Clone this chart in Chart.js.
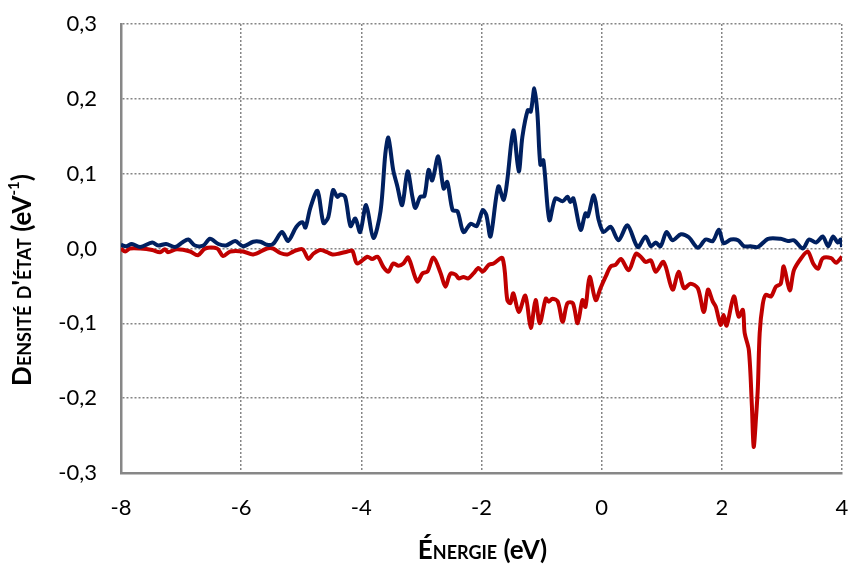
<!DOCTYPE html>
<html>
<head>
<meta charset="utf-8">
<script src="https://cdn.jsdelivr.net/npm/chart.js@4"></script>
<style>
  body { margin: 0; background: #fff; }
  #wrap { width: 849px; height: 566px; }
</style>
</head>
<body>
<div id="wrap"><canvas id="myCanvas" width="849" height="566"></canvas></div>
<script>
// Energy (eV) and density of states
var upEnergy = [-8.00, -7.92, -7.82, -7.68, -7.48, -7.38, -7.25, -7.10, -6.98, -6.88, -6.77, -6.63, -6.52, -6.38, -6.25, -6.10,
	-5.97, -5.80, -5.68, -5.57, -5.47, -5.32, -5.22, -5.08, -4.98, -4.93, -4.85, -4.73, -4.63, -4.55, -4.47, -4.40, -4.35, -4.27,
	-4.18, -4.10, -4.02, -3.92, -3.80, -3.68, -3.60, -3.55, -3.47, -3.40, -3.32, -3.23, -3.15, -3.10, -3.02, -2.95, -2.88, -2.82,
	-2.72, -2.63, -2.57, -2.48, -2.40, -2.30, -2.18, -2.08, -1.98, -1.92, -1.85, -1.72, -1.63, -1.57, -1.47, -1.38, -1.32, -1.23,
	-1.18, -1.12, -1.07, -1.02, -0.97, -0.87, -0.77, -0.65, -0.57, -0.52, -0.47, -0.35, -0.27, -0.23, -0.13, -0.05, 0.03, 0.15,
	0.28, 0.43, 0.60, 0.73, 0.82, 0.90, 0.98, 1.08, 1.18, 1.32, 1.45, 1.60, 1.73, 1.85, 1.95, 2.03, 2.15, 2.27, 2.37, 2.48, 2.60,
	2.77, 2.98, 3.10, 3.20, 3.35, 3.45, 3.57, 3.68, 3.77, 3.85, 3.93, 3.98, 4.00];
var upDOS = [0.005, 0.003, 0.006, 0.002, 0.008, 0.004, 0.006, 0.002, 0.008, 0.012, 0.004, 0.004, 0.013, 0.006, 0.004, 0.010,
	0.003, 0.009, 0.009, 0.005, 0.006, 0.022, 0.010, 0.029, 0.035, 0.028, 0.054, 0.077, 0.034, 0.042, 0.078, 0.069, 0.072, 0.069,
	0.030, 0.040, 0.022, 0.058, 0.014, 0.050, 0.127, 0.148, 0.105, 0.083, 0.058, 0.103, 0.069, 0.054, 0.069, 0.070, 0.105, 0.091,
	0.123, 0.080, 0.089, 0.051, 0.050, 0.022, 0.033, 0.030, 0.051, 0.045, 0.016, 0.083, 0.065, 0.092, 0.158, 0.103, 0.149, 0.185,
	0.183, 0.214, 0.181, 0.112, 0.118, 0.038, 0.067, 0.063, 0.069, 0.062, 0.067, 0.025, 0.047, 0.043, 0.071, 0.038, 0.022, 0.029,
	0.011, 0.031, 0.002, 0.016, 0.003, 0.008, 0.003, 0.022, 0.011, 0.019, 0.015, 0.001, 0.012, 0.010, 0.025, 0.007, 0.012, 0.011,
	0.003, 0.003, 0.002, 0.013, 0.013, 0.010, 0.011, 0.000, 0.012, 0.008, 0.016, 0.003, 0.016, 0.008, 0.012, 0.002];

var downEnergy = [-8.00, -7.93, -7.85, -7.68, -7.48, -7.35, -7.27, -7.22, -7.07, -6.85, -6.72, -6.60, -6.40, -6.30, -6.18, -5.97,
	-5.80, -5.57, -5.47, -5.35, -5.23, -5.13, -4.98, -4.88, -4.80, -4.68, -4.57, -4.48, -4.38, -4.23, -4.15, -4.07, -3.90, -3.82,
	-3.73, -3.63, -3.55, -3.47, -3.38, -3.30, -3.22, -3.07, -2.98, -2.90, -2.80, -2.68, -2.60, -2.52, -2.43, -2.38, -2.30, -2.22,
	-2.13, -2.05, -1.98, -1.88, -1.80, -1.65, -1.57, -1.52, -1.47, -1.38, -1.27, -1.18, -1.10, -1.03, -0.93, -0.88, -0.82, -0.73,
	-0.65, -0.57, -0.48, -0.40, -0.32, -0.27, -0.20, -0.10, -0.02, 0.07, 0.15, 0.23, 0.32, 0.45, 0.57, 0.65, 0.73, 0.82, 0.90,
	1.03, 1.18, 1.28, 1.37, 1.48, 1.60, 1.70, 1.77, 1.85, 1.90, 1.98, 2.03, 2.08, 2.20, 2.28, 2.35, 2.38, 2.45, 2.50, 2.53, 2.57,
	2.60, 2.63, 2.68, 2.73, 2.82, 2.90, 2.98, 3.03, 3.13, 3.20, 3.32, 3.43, 3.52, 3.60, 3.68, 3.82, 3.90, 4.00];
var downDOS = [0.000, -0.004, 0.000, 0.000, -0.002, -0.005, -0.001, -0.005, -0.001, -0.004, -0.009, 0.000, 0.000, -0.010, -0.004, -0.004,
	-0.008, 0.000, 0.000, -0.006, -0.008, -0.004, -0.001, -0.014, -0.007, -0.002, -0.005, -0.008, -0.007, -0.004, -0.003, -0.020, -0.011, -0.014,
	-0.011, -0.025, -0.031, -0.020, -0.023, -0.020, -0.012, -0.044, -0.033, -0.031, -0.012, -0.033, -0.051, -0.034, -0.035, -0.040, -0.038, -0.040,
	-0.033, -0.026, -0.031, -0.022, -0.020, -0.013, -0.069, -0.073, -0.060, -0.085, -0.063, -0.106, -0.069, -0.100, -0.067, -0.071, -0.067, -0.071,
	-0.098, -0.073, -0.073, -0.100, -0.069, -0.078, -0.038, -0.069, -0.053, -0.037, -0.024, -0.022, -0.014, -0.029, -0.007, -0.011, -0.018, -0.016, -0.031,
	-0.018, -0.055, -0.031, -0.053, -0.047, -0.053, -0.085, -0.055, -0.071, -0.078, -0.102, -0.089, -0.103, -0.064, -0.091, -0.082, -0.113, -0.136, -0.210, -0.265, -0.225,
	-0.185, -0.113, -0.075, -0.062, -0.064, -0.051, -0.047, -0.024, -0.056, -0.029, -0.013, -0.004, -0.020, -0.027, -0.013, -0.013, -0.019, -0.011];

var xTickLabels = ['-8', '-6', '-4', '-2', '0', '2', '4'];
var yTickLabels = ['-0,3', '-0,2', '-0,1', '0,0', '0,1', '0,2', '0,3'];

var fontFamily = 'Lato, "Open Sans", sans-serif';
var gridColor = '#858585';

function toPoints(xs, ys){
	var pts = [];
	for (var i = 0; i < xs.length; i++) {
		pts.push({x: xs[i], y: ys[i]});
	}
	return pts;
}

// axis titles are drawn by hand so the small caps and the superscript come out right
var axisTitles = {
	id: 'axisTitles',
	afterDraw: function(chart){
		var ctx = chart.ctx;
		var area = chart.chartArea;
		var big = 'small-caps bold 26px ' + fontFamily;
		var plain = 'bold 26px ' + fontFamily;
		var sup = 'bold 15px ' + fontFamily;

		// y title
		var parts = [
			{t: "Densité d'état", f: big, dy: 0},
			{t: ' (eV', f: plain, dy: 0},
			{t: '-1', f: sup, dy: -9},
			{t: ')', f: plain, dy: 0}
		];
		ctx.save();
		ctx.fillStyle = '#000';
		ctx.textBaseline = 'middle';
		ctx.textAlign = 'left';
		var total = 0;
		parts.forEach(function(p){ ctx.font = p.f; p.w = ctx.measureText(p.t).width; total += p.w; });
		ctx.translate(23, 280);
		ctx.rotate(-Math.PI / 2);
		var x = -total / 2;
		parts.forEach(function(p){ ctx.font = p.f; ctx.fillText(p.t, x, p.dy); x += p.w; });
		ctx.restore();

		// x title
		var xparts = [
			{t: 'Énergie', f: big},
			{t: ' (eV)', f: plain}
		];
		ctx.save();
		ctx.fillStyle = '#000';
		ctx.textBaseline = 'middle';
		ctx.textAlign = 'left';
		total = 0;
		xparts.forEach(function(p){ ctx.font = p.f; p.w = ctx.measureText(p.t).width; total += p.w; });
		x = (area.left + area.right) / 2 - total / 2 + 1;
		xparts.forEach(function(p){ ctx.font = p.f; ctx.fillText(p.t, x, 551); x += p.w; });
		ctx.restore();
	}
};

var ctx = document.getElementById('myCanvas').getContext('2d');
var myChart = new Chart(ctx, {
	type: 'line',
	data: {
		datasets: [{
			label: 'Spin up',
			data: toPoints(upEnergy, upDOS),
			borderColor: '#002060',
			borderWidth: 4,
			pointRadius: 0,
			tension: 0.3,
			fill: false
		}, {
			label: 'Spin down',
			data: toPoints(downEnergy, downDOS),
			borderColor: '#c00000',
			borderWidth: 4,
			pointRadius: 0,
			tension: 0.3,
			fill: false
		}]
	},
	options: {
		responsive: false,
		animation: false,
		layout: { padding: { left: 0, top: 24, right: 7, bottom: 0 } },
		plugins: {
			legend: { display: false },
			tooltip: { enabled: false }
		},
		scales: {
			x: {
				type: 'linear',
				min: -8,
				max: 4,
				ticks: {
					stepSize: 2,
					padding: 22,
					color: '#000',
					font: { family: fontFamily, size: 22 },
					maxRotation: 0,
					callback: function(value, index){ return xTickLabels[index]; }
				},
				// in v4 border.dash is what makes the grid lines dotted
				grid: { color: gridColor, lineWidth: 1.5, drawTicks: false },
				border: { display: true, color: '#878787', width: 2.5, dash: [2, 2] },
				afterFit: function(scale){
					scale.height = 93;
					scale.paddingLeft = 0;
					scale.paddingRight = 0;
				}
			},
			y: {
				min: -0.3,
				max: 0.3,
				ticks: {
					stepSize: 0.1,
					padding: 24,
					color: '#000',
					font: { family: fontFamily, size: 22 },
					callback: function(value, index){ return yTickLabels[index]; }
				},
				grid: { color: gridColor, lineWidth: 1.5, drawTicks: false },
				border: { display: true, color: '#878787', width: 2.5, dash: [2, 2] },
				afterFit: function(scale){
					scale.width = 121;
					scale.paddingTop = 0;
					scale.paddingBottom = 0;
				}
			}
		}
	},
	plugins: [axisTitles]
});
</script>
</body>
</html>
